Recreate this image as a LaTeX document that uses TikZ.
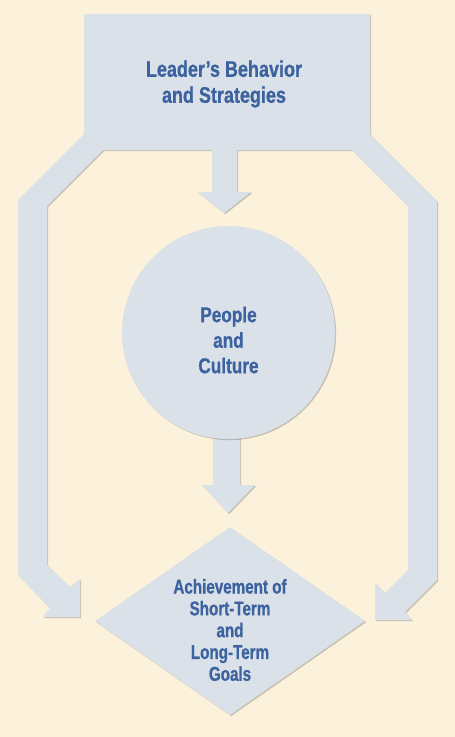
\documentclass[tikz,border=0pt]{standalone}
\usepackage{fontspec}
\newfontfamily\labelfont[FakeStretch=0.80,FakeBold=0.8]{Liberation Sans}
\newfontfamily\narrowfont[FakeStretch=0.76,FakeBold=0.8]{Liberation Sans}
\usetikzlibrary{shapes.geometric,shadows}
\definecolor{paper}{HTML}{FCF2DC}
\definecolor{slate}{HTML}{DAE1E8}
\definecolor{inkblue}{HTML}{3D62A0}
\tikzset{
  block/.style={fill=slate,drop shadow={shadow xshift=1.2pt,shadow yshift=-1.2pt,opacity=0.35,fill=black!60}},
  caption/.style={text=inkblue,align=center,inner sep=0pt}
}

\begin{document}
\begin{tikzpicture}[x=1pt,y=-1pt]
			% Paper background
			\fill[paper] (0,0) rectangle (455,737);
			\useasboundingbox (0,0) rectangle (455,737);

			% Top box with its three arrows
			\path[block] (84,14) -- (370,14) -- (370,134) -- (437,201) -- (437,580)
				-- (405,612) -- (412,620) -- (375,620) -- (375,583) -- (385,593)
				-- (408,570) -- (408,206) -- (352,150) -- (237,150) -- (237,192)
				-- (251,192) -- (224,213) -- (198,192) -- (212,192) -- (212,150)
				-- (103,150) -- (47,206) -- (47,565) -- (70,587) -- (80,579)
				-- (80,617) -- (43,617) -- (50,608) -- (18,575) -- (18,200)
				-- (84,134) -- cycle;

			% Arrow from the circle down to the diamond
			\path[block] (213,400) -- (213,485) -- (202,485) -- (228,513)
				-- (255,485) -- (240,485) -- (240,400) -- cycle;

			% Circle and diamond
			\node[block,circle,minimum size=213pt,inner sep=0pt] (culture) at (228.5,332.5) {};
			\node[block,diamond,minimum width=270pt,minimum height=188pt,inner sep=0pt] (goals) at (230,621) {};

			% Labels
			\node[caption,font=\labelfont\bfseries\fontsize{22.5}{26}\selectfont] (leader) at (224,84) {Leader’s Behavior\\and Strategies};
			\node[caption,font=\labelfont\bfseries\fontsize{21.5}{25.5}\selectfont] (culturetext) at ([yshift=-7.5pt]culture.center) {People\\and\\Culture};
			\node[caption,font=\narrowfont\bfseries\fontsize{20}{21.8}\selectfont] (goalstext) at ([yshift=-9pt]goals.center) {Achievement of\\Short-Term\\and\\Long-Term\\Goals};
		\end{tikzpicture}
\end{document}
